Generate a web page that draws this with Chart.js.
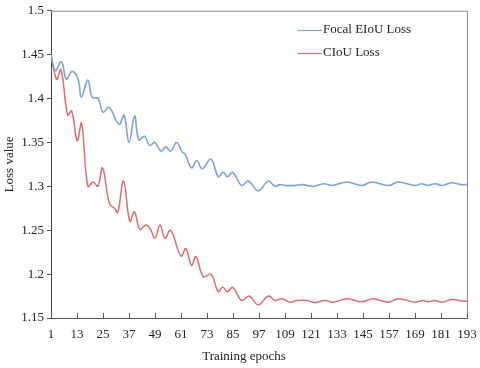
<!DOCTYPE html>
<html>
<head>
<meta charset="utf-8">
<script src="https://cdn.jsdelivr.net/npm/chart.js@4/dist/chart.umd.min.js"></script>
<style>
html,body{margin:0;padding:0;background:#fff;}
#wrap{width:480px;height:368px;position:relative;}
</style>
</head>
<body>
<div id="wrap"><canvas id="c" width="480" height="368"></canvas></div>
<script>
const seriesNames = ["Focal EIoU Loss", "CIoU Loss"];
const xTitle = "Training epochs";
const yTitle = "Loss value";
const xTicks = [1, 13, 25, 37, 49, 61, 73, 85, 97, 109, 121, 133, 145, 157, 169, 181, 193];
const yTicks = [1.15, 1.2, 1.25, 1.3, 1.35, 1.4, 1.45, 1.5];

const eiouEpochs = [1, 3, 5.8, 8.1, 10.7, 13.5, 15, 18, 20, 22.7, 25, 27.8, 32.4, 34.7, 37, 39.6, 41.5, 44.2, 46.5, 48.9,
  51.8, 54, 56.2, 59, 61.6, 62.8, 65.9, 68.2, 70.8, 74.8, 78.2, 80.5, 82.5, 84.8, 89, 92, 96.7, 101.3, 104.4, 106.7,
  109, 113.6, 117, 122, 127, 130.5, 137.5, 144.4, 149, 156.7, 161.3, 169, 172, 175, 178.2, 181.3, 185.9, 190.5, 193];
const eiouLoss = [1.450, 1.432, 1.442, 1.422, 1.431, 1.422, 1.4015, 1.421, 1.4015, 1.400, 1.3845, 1.390, 1.3705, 1.381, 1.350, 1.380, 1.353, 1.357, 1.3466, 1.350,
  1.340, 1.345, 1.340, 1.350, 1.339, 1.337, 1.321, 1.3295, 1.320, 1.331, 1.311, 1.316, 1.311, 1.316, 1.301, 1.306, 1.295, 1.306, 1.300, 1.302,
  1.301, 1.301, 1.302, 1.300, 1.303, 1.301, 1.305, 1.301, 1.305, 1.301, 1.305, 1.301, 1.303, 1.301, 1.303, 1.301, 1.304, 1.302, 1.302];

const ciouEpochs = [1, 3.6, 5.6, 8.7, 10.5, 13.1, 15.1, 18, 20.5, 22.6, 24.8, 28, 30.4, 31.8, 34.5, 37.4, 39.5, 42, 44.8, 46.7,
  49, 51.3, 53.6, 56.2, 61, 63.2, 65.9, 67.9, 71.3, 74.8, 78.2, 80.2, 82.5, 84.8, 89, 92.4, 96.7, 101.3, 104.4, 107.5,
  111.3, 114.4, 119, 122.8, 127.4, 131.3, 137.5, 144.4, 149.7, 156.7, 161.3, 169, 172.8, 175, 178.2, 181.3, 185.9, 190.5, 193];
const ciouLoss = [1.450, 1.422, 1.433, 1.381, 1.386, 1.352, 1.372, 1.300, 1.305, 1.300, 1.321, 1.280, 1.275, 1.270, 1.306, 1.260, 1.271, 1.251, 1.256, 1.252,
  1.241, 1.256, 1.241, 1.250, 1.2205, 1.229, 1.210, 1.220, 1.197, 1.200, 1.180, 1.185, 1.180, 1.185, 1.170, 1.175, 1.165, 1.175, 1.170, 1.172,
  1.168, 1.170, 1.170, 1.1675, 1.170, 1.168, 1.172, 1.1685, 1.172, 1.168, 1.172, 1.168, 1.170, 1.1685, 1.170, 1.168, 1.171, 1.1695, 1.169];

const colors = ["rgb(122,163,218)", "rgb(220,108,110)"];
const FONT = "'Liberation Serif', 'Times New Roman', serif";

const toXY = (xs, ys) => xs.map((x, i) => ({x: x, y: ys[i]}));

const framePlugin = {
  id: 'frame',
  afterDraw(chart) {
    const ctx = chart.ctx, a = chart.chartArea;
    ctx.save();
    ctx.strokeStyle = '#8a8a8a';
    ctx.lineWidth = 1;
    ctx.beginPath();
    ctx.moveTo(a.left, a.top + 0.5);
    ctx.lineTo(a.right + 0.5, a.top + 0.5);
    ctx.lineTo(a.right + 0.5, a.bottom);
    ctx.stroke();
    // inward x ticks
    const xs = chart.scales.x;
    ctx.strokeStyle = '#555';
    ctx.beginPath();
    xs.ticks.forEach((t, i) => {
      const px = Math.round(xs.getPixelForTick(i)) + 0.5;
      ctx.moveTo(px, a.bottom);
      ctx.lineTo(px, a.bottom - 5);
    });
    ctx.stroke();
    // x axis title (slightly left of centre as in the reference)
    ctx.font = "13px " + FONT;
    ctx.fillStyle = '#222';
    ctx.textAlign = 'center';
    ctx.textBaseline = 'middle';
    ctx.fillText(xTitle, 244, 357);
    // legend
    ctx.textAlign = 'left';
    chart.data.datasets.forEach((ds, i) => {
      const y = 30 + i * 22.5;
      ctx.strokeStyle = ds.borderColor;
      ctx.lineWidth = 1.2;
      ctx.beginPath();
      ctx.moveTo(298, Math.round(y) + 0.5);
      ctx.lineTo(322, Math.round(y) + 0.5);
      ctx.stroke();
      ctx.fillStyle = '#222';
      ctx.fillText(ds.label, 323, y);
    });
    ctx.restore();
  }
};

new Chart(document.getElementById('c'), {
  type: 'line',
  data: {
    datasets: [
      {label: seriesNames[0], data: toXY(eiouEpochs, eiouLoss), borderColor: colors[0], borderWidth: 1.6,
       pointRadius: 0, tension: 0.4, fill: false},
      {label: seriesNames[1], data: toXY(ciouEpochs, ciouLoss), borderColor: colors[1], borderWidth: 1.5,
       pointRadius: 0, tension: 0.4, fill: false}
    ]
  },
  options: {
    responsive: false,
    animation: false,
    layout: {padding: {left: 0, right: 13, top: 9, bottom: 0}},
    plugins: {legend: {display: false}, tooltip: {enabled: false}},
    scales: {
      x: {
        type: 'linear', min: 1, max: 193,
        afterBuildTicks(scale) { scale.ticks = xTicks.map(v => ({value: v})); },
        afterFit(scale) { scale.height = 50; },
        grid: {display: true, drawOnChartArea: false, drawTicks: true, tickLength: 9, tickColor: 'rgba(0,0,0,0)'},
        border: {display: true, color: '#555', width: 1},
        ticks: {font: {family: FONT, size: 13}, color: '#222', padding: 0, maxRotation: 0, autoSkip: false,
                callback: v => String(v)},
        title: {display: false}
      },
      y: {
        type: 'linear', min: 1.15, max: 1.5,
        afterBuildTicks(scale) { scale.ticks = yTicks.map(v => ({value: v})); },
        afterFit(scale) { scale.width = 51; },
        grid: {display: true, drawOnChartArea: false, drawTicks: true, tickLength: 4, color: '#555'},
        border: {display: true, color: '#444', width: 1},
        ticks: {font: {family: FONT, size: 13}, color: '#222', padding: 3,
                callback: v => String(Math.round(v * 100) / 100)},
        title: {display: true, text: yTitle, font: {family: FONT, size: 13}, color: '#222',
                padding: {top: 2, bottom: 0}}
      }
    }
  },
  plugins: [framePlugin]
});
</script>
</body>
</html>
